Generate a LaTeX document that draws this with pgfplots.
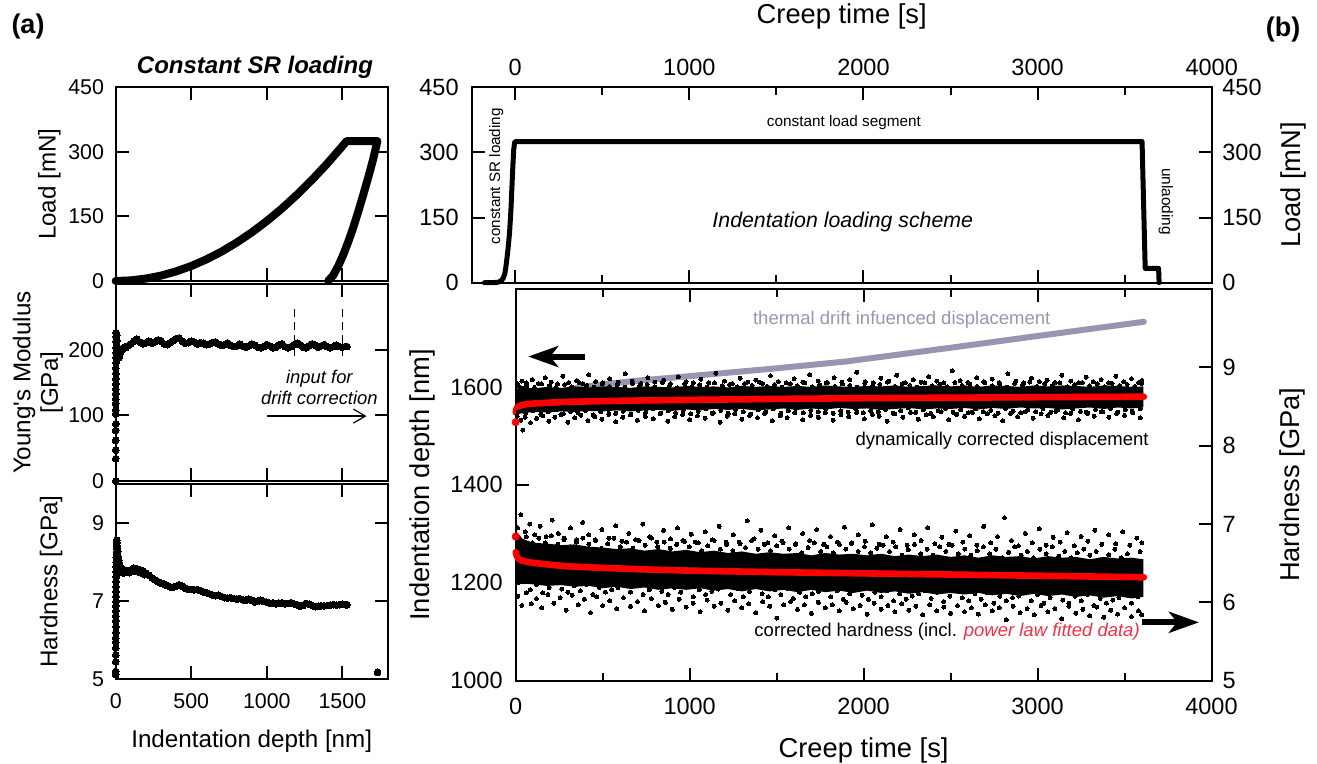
\documentclass[border=0pt]{standalone}
\usepackage{fontspec}
\setmainfont{Liberation Sans}
\usepackage{pgfplots}
\pgfplotsset{compat=1.18}
\usetikzlibrary{arrows.meta}
\definecolor{drift}{RGB}{150,150,178}
\definecolor{fitred}{RGB}{255,0,0}
\definecolor{fittext}{RGB}{240,50,70}
\pgfplotsset{
  base/.style={
    scale only axis, clip=false, anchor=south west,
    /pgf/number format/assume math mode=true,
    /pgf/number format/1000 sep={},
    scaled ticks=false,
    tick align=inside,
    major tick length=6.5pt, minor tick length=4pt,
    axis line style={line width=1pt},
    tick style={line width=1pt, black},
  },
  leftfont/.style={tick label style={font=\fontsize{10.7}{12}\selectfont},
    label style={font=\fontsize{12.1}{13.75}\selectfont}},
  rightfont/.style={tick label style={font=\fontsize{11.75}{13}\selectfont},
    label style={font=\fontsize{13.65}{16}\selectfont}},
  dots/.style={only marks, mark=*, mark size=#1, color=black, mark options={line width=0pt}},
}
\begin{document}
\begin{tikzpicture}
\path[use as bounding box] (0,0) rectangle (658.5pt,382pt);
\node[font=\fontsize{13.5}{15}\selectfont\bfseries] at (14pt,368.5pt) {(a)};
\node[font=\fontsize{13.5}{15}\selectfont\bfseries] at (641.5pt,367pt) {(b)};

% ---------------- A1: load-depth
\begin{axis}[base, leftfont, at={(57.85pt,241.5pt)}, width=136pt, height=96.85pt,
  xmin=0, xmax=1800, ymin=0, ymax=450,
  xtick={0,500,1000,1500}, xticklabel=\empty, ytick={0,150,300,450},
  yticklabel style={xshift=-2.3pt},
  ylabel={Load [mN]}, ylabel style={at={(axis description cs:-0.244,0.5)}, anchor=center},
  title={\bfseries\itshape Constant SR loading},
  title style={at={(axis description cs:0.512,1.125)}, anchor=center, yshift=-8pt, font=\fontsize{12}{14}\selectfont}]
\addplot[black, line width=4pt, line cap=round, line join=round] coordinates {
(0,0) (100,1.4) (200,5.6) (300,12.5) (400,22.3) (500,34.8) (600,50.1) (700,68.2)
(800,89.1) (900,112.8) (1000,139.2) (1100,168.4) (1200,200.5) (1300,235.3)
(1400,272.8) (1500,313.2) (1528,325) (1732,325) (1702,280.5) (1669,237.9)
(1636,197.4) (1603,158.9) (1571,123.1) (1538,90.0) (1505,60.2) (1472,34.1)
(1439,12.9) (1406,0)};
\end{axis}

% ---------------- A2: Young's modulus
\begin{axis}[base, leftfont, at={(57.85pt,141.5pt)}, width=136pt, height=98.35pt,
  xmin=0, xmax=1800, ymin=0, ymax=300,
  xtick={0,500,1000,1500}, xticklabel=\empty, ytick={0,100,200},
  yticklabel style={xshift=-2.3pt},
  ylabel={Young\textquotesingle s Modulus\\{[GPa]}},
  ylabel style={at={(axis description cs:-0.286,0.5)}, anchor=center, align=center}]
\draw[black, line width=0.6pt, dash pattern=on 4pt off 2.5pt] (axis cs:1181,262) -- (axis cs:1181,183);
\draw[black, line width=0.6pt, dash pattern=on 4pt off 2.5pt] (axis cs:1499,262) -- (axis cs:1499,183);
\addplot[dots=1.7pt] coordinates {
(0,0) (0,34) (0,47) (0,62) (0,77) (0,87) (0,102) (0,108) (0,118) (0,125) (0,133)
(1,140) (1,148) (1,156) (1,164) (1,172) (2,180) (2,188) (2,196) (2,204) (3,212)
(3,220) (4,226) (6,222) (8,214) (10,205) (13,196) (16,190) (20,188) (25,191)
(30,195) (35,198) (45,201) (52,203)
(60,204) (80,206) (100,209) (120,213) (140,216) (160,212) (180,209) (200,211)
(220,213) (240,210) (260,212) (280,215) (300,213) (320,209) (340,208) (360,211)
(380,214) (400,217) (420,218) (440,213) (460,210) (480,211) (500,213) (520,212)
(540,209) (560,211) (580,210) (600,208) (620,209) (640,211) (660,212) (680,209)
(700,207) (720,208) (740,210) (760,207) (780,205) (800,206) (820,209) (840,206)
(860,204) (880,206) (900,209) (920,207) (940,204) (960,203) (980,205) (1000,208)
(1020,206) (1040,203) (1060,204) (1080,207) (1100,209) (1120,205) (1140,203)
(1160,205) (1180,208) (1200,210) (1220,208) (1240,204) (1260,203) (1280,206)
(1300,209) (1320,207) (1340,204) (1360,206) (1380,208) (1400,205) (1420,203)
(1440,205) (1460,207) (1480,205) (1500,204) (1520,205) (1530,205)};
\node[align=center, font=\fontsize{9.2}{10.4}\selectfont\itshape] at (axis cs:1348,143) {input for\\drift correction};
\draw[black, line width=0.6pt, -{Straight Barb[length=6pt,width=7pt]}] (axis cs:999,99) -- (axis cs:1660,99);
\end{axis}

% ---------------- A3: hardness-depth
\begin{axis}[base, leftfont, at={(57.85pt,42.35pt)}, width=136pt, height=97.65pt,
  xmin=0, xmax=1800, ymin=5, ymax=10,
  xtick={0,500,1000,1500}, ytick={5,7,9},
  xticklabel style={yshift=-3.8pt}, yticklabel style={xshift=-2.3pt},
  xlabel={Indentation depth [nm]}, xlabel style={at={(axis description cs:0.5,-0.3195)}, anchor=center},
  ylabel={Hardness [GPa]}, ylabel style={at={(axis description cs:-0.237,0.5)}, anchor=center}]
\addplot[dots=1.7pt] coordinates {
(0,5.12) (0,5.2) (0,5.45) (0,5.62) (0,5.8) (0,5.95) (0,6.05) (1,6.2) (1,6.35)
(1,6.5) (1,6.62) (1,6.75) (1,6.88) (2,7.0) (2,7.12) (2,7.25) (2,7.38) (3,7.5)
(3,7.62) (3,7.75) (4,7.88) (4,8.0) (4,8.12) (5,8.25) (5,8.38) (6,8.5) (7,8.56)
(9,8.5) (11,8.4) (13,8.28) (16,8.15) (20,8.05) (25,7.97) (30,7.9) (35,7.86)
(8,7.75) (15,7.72) (30,7.74) (50,7.72) (70,7.75) (90,7.73) (110,7.76) (130,7.78)
(150,7.75) (170,7.72) (190,7.68)
(40,7.8) (60,7.8) (80,7.78) (100,7.8) (120,7.84) (140,7.83) (160,7.8) (180,7.78)
(200,7.72) (220,7.66) (240,7.6) (260,7.55) (280,7.5) (300,7.46) (320,7.43)
(340,7.4) (360,7.37) (380,7.36) (400,7.38) (420,7.42) (440,7.38) (460,7.33)
(480,7.3) (500,7.3) (520,7.29) (540,7.3) (560,7.27) (580,7.24) (600,7.22)
(620,7.19) (640,7.16) (660,7.14) (680,7.15) (700,7.12) (720,7.09) (740,7.08)
(760,7.09) (780,7.07) (800,7.05) (820,7.07) (840,7.04) (860,7.02) (880,7.05)
(900,7.02) (920,6.98) (940,7.0) (960,7.02) (980,6.99) (1000,6.97) (1020,6.95)
(1040,6.96) (1060,6.93) (1080,6.95) (1100,6.96) (1120,6.93) (1140,6.94)
(1160,6.96) (1180,6.93) (1200,6.91) (1220,6.87) (1240,6.89) (1260,6.94)
(1280,6.92) (1300,6.89) (1320,6.86) (1340,6.87) (1360,6.88) (1380,6.88)
(1400,6.89) (1420,6.9) (1440,6.91) (1460,6.9) (1480,6.91) (1500,6.92)
(1520,6.91) (1530,6.91) (1733,5.18)};
\end{axis}

% ---------------- B1: load-time
\begin{axis}[base, rightfont, at={(235.85pt,240.65pt)}, width=370pt, height=97.7pt,
  xmin=-250, xmax=4000, ymin=0, ymax=450,
  xtick={0,1000,2000,3000,4000}, minor xtick={500,1500,2500,3500},
  xticklabel pos=top, xticklabel style={yshift=2pt},
  ytick={0,150,300,450}, yticklabel style={xshift=-3pt},
  xlabel={Creep time [s]}, xlabel style={at={(axis description cs:0.5,1.36)}, anchor=center}]
\addplot[black, line width=2.5pt, line cap=round, line join=round] coordinates {
(-177,0) (-130,0) (-100,1) (-85,3) (-71,9) (-60,20) (-52,41) (-42,75) (-33,113)
(-25,165) (-19,220) (-14,265) (-9,305) (-4,322) (0,325) (3600,325) (3618,33)
(3695,33) (3698,0)};
\node[font=\fontsize{7.65}{9}\selectfont] at (axis cs:1888,369) {constant load segment};
\node[font=\fontsize{10.65}{12}\selectfont\itshape] at (axis cs:1881,140.5) {Indentation loading scheme};
\node[font=\fontsize{7.6}{9}\selectfont, rotate=90] at (axis cs:-109,245) {constant SR loading};
\node[font=\fontsize{7.7}{9}\selectfont, rotate=-90] at (axis cs:3736,186.5) {unlaoding};
\end{axis}
\begin{axis}[base, rightfont, at={(235.85pt,240.65pt)}, width=370pt, height=97.7pt,
  xmin=-250, xmax=4000, ymin=0, ymax=450,
  axis x line=none, axis y line*=right,
  ytick={0,150,300,450}, yticklabel style={xshift=1.8pt},
  ylabel={Load [mN]}, ylabel style={at={(axis description cs:1.1105,0.5)}, anchor=center}]
\end{axis}

% ---------------- B2: depth and hardness vs time
\begin{axis}[base, rightfont, at={(257.85pt,41.65pt)}, width=347.9pt, height=195.85pt,
  xmin=0, xmax=4000, ymin=1000, ymax=1800,
  xtick={0,1000,2000,3000,4000}, minor xtick={500,1500,2500,3500},
  ytick={1000,1200,1400,1600}, ytick pos=left,
  xticklabel style={yshift=-5pt}, yticklabel style={xshift=-3pt},
  xlabel={Creep time [s]}, xlabel style={at={(axis description cs:0.5,-0.177)}, anchor=center},
  ylabel={Indentation depth [nm]}, ylabel style={at={(axis description cs:-0.134,0.5)}, anchor=center}]
% thermal drift influenced displacement
\addplot[drift, line width=3pt, line cap=round] coordinates {
(0,1548) (30,1562) (100,1575) (200,1587) (400,1601) (677,1612) (1000,1622)
(1500,1638) (1900,1652) (2500,1680) (3000,1704) (3611,1733)};
% dense core of corrected displacement
\addplot[fill=black, draw=none] coordinates {
(2,1596) (40,1599) (100,1597) (180,1600) (260,1598) (340,1601) (420,1599) (500,1601)
(580,1600) (660,1598) (740,1601) (820,1600) (900,1599) (980,1602) (1060,1600)
(1140,1601) (1220,1599) (1300,1602) (1380,1600) (1460,1602) (1540,1600) (1620,1602)
(1700,1600) (1780,1603) (1860,1601) (1940,1600) (2020,1602) (2100,1601) (2180,1603)
(2260,1600) (2340,1602) (2420,1603) (2500,1601) (2580,1603) (2660,1600) (2740,1603)
(2820,1602) (2900,1600) (2980,1603) (3060,1601) (3140,1603) (3220,1602) (3300,1600)
(3380,1603) (3460,1602) (3540,1600) (3608,1601)
(3608,1558) (3540,1556) (3460,1558) (3380,1555) (3300,1558) (3220,1556) (3140,1554)
(3060,1557) (2980,1556) (2900,1558) (2820,1555) (2740,1557) (2660,1554) (2580,1557)
(2500,1555) (2420,1556) (2340,1554) (2260,1557) (2180,1555) (2100,1553) (2020,1556)
(1940,1555) (1860,1557) (1780,1554) (1700,1556) (1620,1553) (1540,1556) (1460,1554)
(1380,1552) (1300,1555) (1220,1553) (1140,1555) (1060,1552) (980,1554) (900,1551)
(820,1553) (740,1552) (660,1550) (580,1552) (500,1550) (420,1551) (340,1549)
(260,1550) (180,1548) (100,1549) (40,1546) (2,1545)};
% scattered points of corrected displacement
\addplot[dots=1pt] coordinates {
(10,1606) (35,1612) (60,1608) (95,1615) (130,1607) (170,1619) (205,1610) (240,1606)
(270,1622) (305,1609) (350,1613) (385,1607) (420,1625) (460,1611) (500,1608)
(540,1617) (590,1610) (630,1627) (670,1612) (720,1607) (760,1619) (800,1610)
(850,1614) (890,1607) (935,1621) (980,1611) (1020,1608) (1065,1616) (1110,1609)
(1150,1628) (1200,1612) (1245,1607) (1290,1618) (1335,1610) (1380,1614) (1420,1607)
(1465,1623) (1510,1611) (1555,1608) (1600,1617) (1650,1610) (1690,1625) (1740,1612)
(1785,1608) (1830,1619) (1875,1610) (1920,1615) (1960,1630) (2010,1611) (2055,1608)
(2100,1618) (2145,1612) (2190,1624) (2240,1609) (2285,1615) (2330,1610) (2375,1621)
(2420,1612) (2460,1608) (2510,1633) (2555,1613) (2600,1609) (2650,1619) (2690,1611)
(2740,1616) (2780,1609) (2830,1627) (2875,1612) (2920,1608) (2965,1618) (3010,1611)
(3055,1614) (3100,1609) (3140,1624) (3190,1612) (3235,1608) (3280,1620) (3320,1611)
(3365,1615) (3410,1608) (3450,1622) (3495,1611) (3540,1617) (3580,1609) (3600,1613)
(8,1540) (30,1532) (55,1538) (85,1527) (120,1536) (155,1541) (190,1530) (225,1538)
(260,1543) (300,1528) (340,1537) (375,1542) (415,1531) (455,1539) (495,1534)
(535,1544) (575,1529) (615,1538) (660,1543) (700,1532) (745,1540) (790,1535)
(830,1545) (875,1530) (915,1539) (960,1544) (1000,1533) (1045,1541) (1090,1536)
(1130,1546) (1175,1528) (1215,1540) (1260,1545) (1300,1534) (1345,1542) (1390,1537)
(1430,1546) (1475,1531) (1520,1541) (1560,1537) (1605,1547) (1650,1533) (1695,1542)
(1740,1538) (1780,1547) (1825,1532) (1870,1543) (1915,1539) (1960,1548) (2005,1535)
(2050,1544) (2090,1540) (2135,1530) (2180,1545) (2225,1538) (2270,1548) (2315,1534)
(2360,1543) (2400,1539) (2445,1549) (2490,1533) (2535,1544) (2580,1540) (2625,1548)
(2665,1535) (2710,1545) (2755,1541) (2800,1531) (2845,1546) (2885,1539) (2930,1549)
(2975,1536) (3020,1545) (3060,1541) (3105,1550) (3150,1537) (3190,1546) (3235,1533)
(3280,1548) (3325,1540) (3365,1549) (3410,1538) (3455,1546) (3500,1542) (3545,1550)
(3590,1537) (40,1512)
(20,1601) (62,1604) (108,1599) (148,1606) (192,1602) (233,1598) (281,1605) (322,1600)
(367,1608) (408,1603) (452,1599) (497,1606) (539,1601) (583,1604) (626,1599) (671,1607)
(713,1602) (756,1605) (799,1600) (843,1609) (884,1603) (929,1598) (972,1606) (1013,1601)
(1058,1604) (1101,1599) (1143,1608) (1188,1602) (1229,1605) (1274,1600) (1316,1607)
(1359,1603) (1402,1610) (1446,1601) (1488,1605) (1531,1599) (1577,1606) (1619,1602)
(1662,1608) (1705,1600) (1749,1604) (1791,1609) (1834,1601) (1879,1606) (1921,1603)
(1964,1599) (2007,1607) (2051,1602) (2093,1605) (2137,1610) (2180,1601) (2222,1606)
(2266,1603) (2309,1599) (2352,1608) (2395,1602) (2438,1605) (2481,1600) (2525,1609)
(2567,1603) (2611,1606) (2653,1601) (2697,1608) (2739,1602) (2783,1605) (2826,1599)
(2869,1607) (2912,1603) (2955,1610) (2998,1601) (3041,1606) (3085,1602) (3127,1608)
(3171,1600) (3213,1605) (3257,1609) (3299,1602) (3343,1606) (3386,1600) (3429,1607)
(3472,1603) (3515,1605) (3558,1601) (3598,1607)
(15,1549) (58,1546) (101,1551) (144,1544) (188,1549) (229,1553) (273,1545) (316,1550)
(358,1547) (402,1552) (446,1543) (488,1549) (531,1554) (575,1546) (617,1550) (661,1544)
(704,1552) (747,1548) (790,1555) (834,1546) (877,1551) (919,1547) (963,1553) (1006,1545)
(1049,1550) (1093,1555) (1135,1547) (1179,1552) (1222,1546) (1265,1554) (1308,1549)
(1351,1544) (1395,1553) (1437,1548) (1481,1555) (1524,1546) (1567,1551) (1610,1556)
(1653,1547) (1697,1552) (1739,1549) (1783,1555) (1825,1546) (1869,1551) (1911,1548)
(1955,1556) (1997,1547) (2041,1552) (2084,1549) (2127,1554) (2171,1546) (2213,1551)
(2257,1557) (2299,1548) (2343,1553) (2385,1546) (2429,1551) (2472,1556) (2515,1548)
(2558,1553) (2601,1547) (2645,1555) (2687,1549) (2731,1552) (2773,1546) (2817,1556)
(2859,1550) (2903,1547) (2945,1554) (2989,1549) (3031,1556) (3075,1548) (3117,1553)
(3161,1547) (3203,1555) (3247,1550) (3289,1546) (3333,1554) (3375,1549) (3419,1556)
(3461,1548) (3505,1553) (3547,1547) (3590,1555)};
% power law fit of displacement
\addplot[fitred, line width=3.3pt, line cap=round, line join=round] coordinates {
(0,1548) (5,1555) (10,1558.5) (20,1561) (40,1563.5) (70,1565) (100,1566) (200,1568)
(300,1569.5) (500,1571) (750,1572.5) (1000,1573.5) (1500,1575.5) (2000,1577)
(2500,1578) (3000,1579) (3611,1580)};
\addplot[only marks, mark=*, mark size=1.8pt, fitred] coordinates {(0,1528)};
\node[font=\fontsize{9.25}{11}\selectfont, text=drift] at (axis cs:2219,1738) {thermal drift infuenced displacement};
\node[font=\fontsize{9.25}{11}\selectfont] at (axis cs:2796,1491) {dynamically corrected displacement};
\node[font=\fontsize{9.25}{11}\selectfont] at (axis cs:2480,1100) {corrected hardness (incl. {\color{fittext}\itshape power law fitted data)}};
\draw[black, line width=3pt, -{Stealth[length=15pt,width=10.5pt,inset=4pt]}] (axis cs:398,1662) -- (axis cs:72,1662);
\end{axis}
\begin{axis}[base, rightfont, at={(257.85pt,41.65pt)}, width=347.9pt, height=195.85pt,
  xmin=0, xmax=4000, ymin=5, ymax=10,
  axis x line=none, axis y line*=right,
  ytick={5,6,7,8,9}, yticklabel style={xshift=2pt},
  ylabel={Hardness [GPa]}, ylabel style={at={(axis description cs:1.1164,0.5)}, anchor=center}]
% dense core of corrected hardness
\addplot[fill=black, draw=none] coordinates {
(2,6.91) (40,6.81) (100,6.76) (180,6.75) (260,6.73) (340,6.74) (420,6.71) (500,6.70)
(580,6.68) (660,6.69) (740,6.66) (820,6.68) (900,6.65) (980,6.67) (1060,6.64)
(1140,6.66) (1220,6.63) (1300,6.65) (1380,6.62) (1460,6.64) (1540,6.62) (1620,6.63)
(1700,6.60) (1780,6.63) (1860,6.61) (1940,6.62) (2020,6.60) (2100,6.62) (2180,6.59)
(2260,6.61) (2340,6.59) (2420,6.61) (2500,6.58) (2580,6.60) (2660,6.57) (2740,6.60)
(2820,6.58) (2900,6.59) (2980,6.56) (3060,6.59) (3140,6.57) (3220,6.58) (3300,6.55)
(3380,6.58) (3460,6.56) (3540,6.57) (3608,6.55)
(3608,6.07) (3540,6.05) (3460,6.08) (3380,6.06) (3300,6.09) (3220,6.07) (3140,6.10)
(3060,6.08) (2980,6.11) (2900,6.08) (2820,6.11) (2740,6.09) (2660,6.12) (2580,6.10)
(2500,6.12) (2420,6.10) (2340,6.13) (2260,6.11) (2180,6.14) (2100,6.12) (2020,6.15)
(1940,6.12) (1860,6.15) (1780,6.13) (1700,6.16) (1620,6.13) (1540,6.16) (1460,6.14)
(1380,6.17) (1300,6.14) (1220,6.17) (1140,6.15) (1060,6.18) (980,6.16) (900,6.18)
(820,6.16) (740,6.19) (660,6.17) (580,6.20) (500,6.18) (420,6.21) (340,6.20)
(260,6.22) (180,6.21) (100,6.23) (40,6.24) (2,6.26)};
% scattered points of corrected hardness
\addplot[dots=1pt] coordinates {
(10,6.95) (30,7.12) (55,6.90) (80,7.00) (110,6.86) (140,6.97) (175,6.84) (210,7.05)
(245,6.88) (280,6.82) (315,6.95) (350,6.80) (385,7.02) (420,6.86) (460,6.79)
(495,6.93) (535,6.82) (575,6.98) (610,6.78) (650,6.88) (690,6.80) (730,7.00)
(770,6.84) (810,6.77) (850,6.92) (890,6.81) (930,6.95) (970,6.78) (1010,6.87)
(1050,6.76) (1090,6.90) (1130,6.80) (1170,6.97) (1210,6.77) (1250,6.86) (1290,6.75)
(1330,7.04) (1370,6.81) (1410,6.92) (1450,6.76) (1490,6.85) (1530,6.78) (1570,6.95)
(1610,6.75) (1650,6.88) (1690,6.79) (1730,6.93) (1770,6.74) (1810,6.84) (1850,6.77)
(1890,6.96) (1930,6.75) (1970,6.86) (2010,6.78) (2050,6.99) (2090,6.74) (2130,6.84)
(2170,6.77) (2210,6.93) (2250,6.73) (2290,6.86) (2330,6.79) (2370,6.95) (2410,6.75)
(2450,6.83) (2490,6.74) (2530,6.91) (2570,6.77) (2610,6.85) (2650,6.73) (2690,6.97)
(2730,6.76) (2770,6.84) (2810,7.08) (2850,6.79) (2890,6.72) (2930,6.88) (2970,6.76)
(3010,6.94) (3050,6.73) (3090,6.83) (3130,6.77) (3170,6.89) (3210,6.72) (3250,6.84)
(3290,6.78) (3330,6.92) (3370,6.74) (3410,6.86) (3450,6.75) (3490,6.90) (3530,6.73)
(3570,6.82) (3600,6.76)
(12,6.08) (35,5.96) (60,6.12) (90,5.98) (120,6.05) (150,5.93) (185,6.10) (220,5.99)
(255,6.06) (290,5.90) (325,6.09) (360,5.97) (395,6.04) (430,5.87) (465,6.07)
(500,5.96) (540,6.02) (580,5.92) (620,6.06) (660,5.95) (700,6.01) (740,5.89)
(780,6.05) (820,5.96) (860,6.00) (900,5.91) (940,6.04) (980,5.94) (1020,5.99)
(1060,5.88) (1100,6.03) (1140,5.95) (1180,5.99) (1220,5.90) (1260,6.02) (1300,5.93)
(1340,5.98) (1380,5.87) (1420,6.01) (1460,5.95) (1500,5.80) (1540,5.97) (1580,6.01)
(1620,5.91) (1660,5.97) (1700,5.86) (1740,6.00) (1780,5.93) (1820,5.97) (1860,5.89)
(1900,6.00) (1940,5.92) (1980,5.96) (2020,5.85) (2060,5.99) (2100,5.91) (2140,5.96)
(2180,5.88) (2220,5.98) (2260,5.90) (2300,5.95) (2340,5.84) (2380,5.97) (2420,5.89)
(2460,5.94) (2500,5.86) (2540,5.96) (2580,5.88) (2620,5.93) (2660,5.85) (2700,5.97)
(2740,5.89) (2780,5.93) (2820,5.78) (2860,5.95) (2900,5.87) (2940,5.92) (2980,5.84)
(3020,5.96) (3060,5.88) (3100,5.92) (3140,5.79) (3180,5.95) (3220,5.86) (3260,5.91)
(3300,5.83) (3340,5.94) (3380,5.81) (3420,5.90) (3460,5.85) (3500,5.93) (3540,5.82)
(3580,5.89) (3600,5.84)
(25,6.78) (61,6.84) (97,6.76) (133,6.82) (169,6.76) (205,6.85) (241,6.74) (277,6.80)
(313,6.71) (349,6.77) (385,6.82) (421,6.74) (457,6.80) (493,6.69) (529,6.75) (565,6.82)
(601,6.71) (637,6.77) (673,6.69) (709,6.79) (745,6.73) (781,6.82) (817,6.71) (853,6.77)
(889,6.69) (925,6.74) (961,6.79) (997,6.71) (1033,6.77) (1069,6.66) (1105,6.72)
(1141,6.79) (1177,6.68) (1213,6.74) (1249,6.66) (1285,6.77) (1321,6.70) (1357,6.79)
(1393,6.68) (1429,6.74) (1465,6.66) (1501,6.72) (1537,6.76) (1573,6.68) (1609,6.74)
(1645,6.63) (1681,6.70) (1717,6.76) (1753,6.65) (1789,6.71) (1825,6.63) (1861,6.74)
(1897,6.68) (1933,6.76) (1969,6.65) (2005,6.71) (2041,6.63) (2077,6.69) (2113,6.73)
(2149,6.65) (2185,6.71) (2221,6.60) (2257,6.67) (2293,6.74) (2329,6.62) (2365,6.68)
(2401,6.60) (2437,6.71) (2473,6.65) (2509,6.73) (2545,6.62) (2581,6.68) (2617,6.60)
(2653,6.66) (2689,6.71) (2725,6.62) (2761,6.68) (2797,6.57) (2833,6.64) (2869,6.71)
(2905,6.60) (2941,6.65) (2977,6.57) (3013,6.68) (3049,6.62) (3085,6.71) (3121,6.59)
(3157,6.65) (3193,6.57) (3229,6.63) (3265,6.68) (3301,6.60) (3337,6.65) (3373,6.54)
(3409,6.61) (3445,6.68) (3481,6.57) (3517,6.62) (3553,6.54) (3589,6.65)
(12,6.25) (48,6.27) (84,6.16) (120,6.23) (156,6.12) (192,6.19) (228,6.26) (264,6.17)
(300,6.13) (336,6.21) (372,6.15) (408,6.23) (444,6.10) (480,6.19) (516,6.13) (552,6.16)
(588,6.19) (624,6.23) (660,6.13) (696,6.21) (732,6.10) (768,6.16) (804,6.23) (840,6.14)
(876,6.10) (912,6.19) (948,6.13) (984,6.20) (1020,6.07) (1056,6.16) (1092,6.10)
(1128,6.14) (1164,6.17) (1200,6.20) (1236,6.10) (1272,6.18) (1308,6.07) (1344,6.14)
(1380,6.21) (1416,6.11) (1452,6.07) (1488,6.16) (1524,6.10) (1560,6.18) (1596,6.05)
(1632,6.13) (1668,6.07) (1704,6.11) (1740,6.14) (1776,6.18) (1812,6.07) (1848,6.15)
(1884,6.04) (1920,6.11) (1956,6.18) (1992,6.09) (2028,6.04) (2064,6.13) (2100,6.07)
(2136,6.15) (2172,6.02) (2208,6.11) (2244,6.04) (2280,6.08) (2316,6.11) (2352,6.15)
(2388,6.05) (2424,6.13) (2460,6.01) (2496,6.08) (2532,6.15) (2568,6.06) (2604,6.02)
(2640,6.11) (2676,6.04) (2712,6.12) (2748,5.99) (2784,6.08) (2820,6.02) (2856,6.06)
(2892,6.08) (2928,6.12) (2964,6.02) (3000,6.10) (3036,5.99) (3072,6.06) (3108,6.12)
(3144,6.03) (3180,5.99) (3216,6.08) (3252,6.02) (3288,6.10) (3324,5.96) (3360,6.05)
(3396,5.99) (3432,6.03) (3468,6.06) (3504,6.10) (3540,5.99) (3576,6.07)};
\addplot[fitred, line width=3.3pt, line cap=round, line join=round] coordinates {
(0,6.64) (5,6.60) (10,6.575) (20,6.55) (40,6.53) (70,6.515) (100,6.505) (200,6.48)
(300,6.46) (500,6.44) (750,6.42) (1000,6.405) (1500,6.385) (2000,6.37) (2500,6.355)
(3000,6.34) (3611,6.32)};
\addplot[only marks, mark=*, mark size=1.8pt, fitred] coordinates {(0,6.84)};
\draw[black, line width=3pt, -{Stealth[length=15pt,width=10.5pt,inset=4pt]}] (axis cs:3602,5.745) -- (axis cs:3928,5.745);
\end{axis}
\end{tikzpicture}
\end{document}
